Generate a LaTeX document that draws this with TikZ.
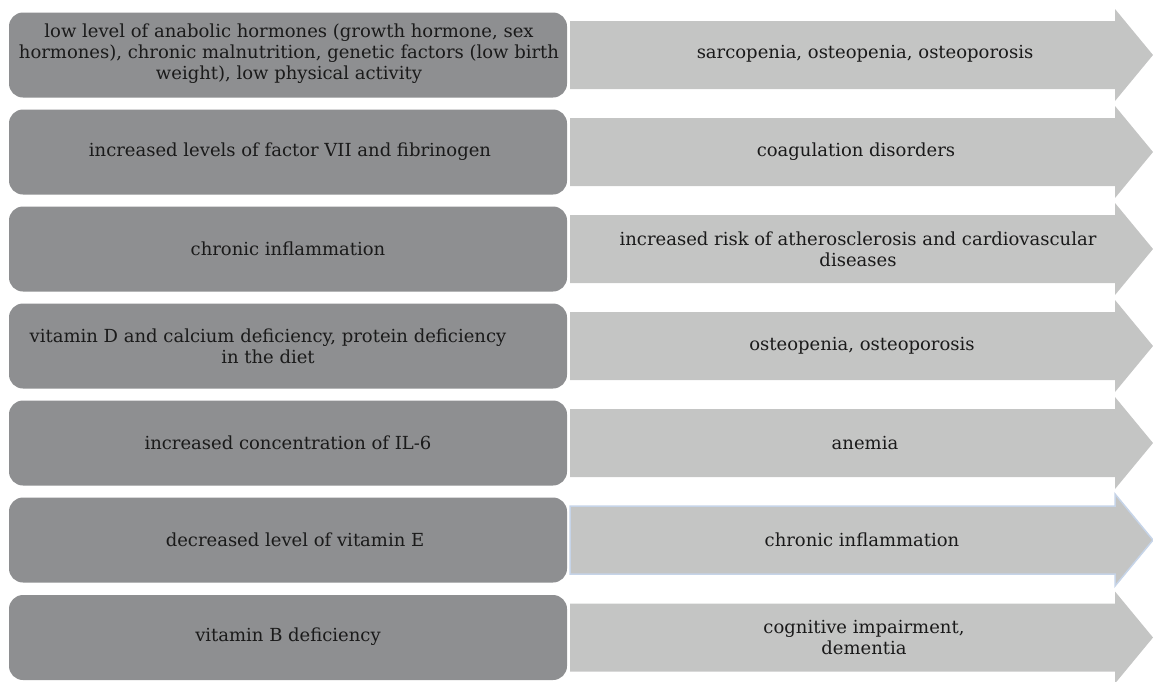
\documentclass[tikz,border=0pt]{standalone}
\usepackage{fontspec}
\setmainfont{DejaVu Serif}
\usepackage{xcolor}
\definecolor{causegray}{HTML}{8E8F91}
\definecolor{effectgray}{HTML}{C4C5C4}
\definecolor{edgeblue}{HTML}{C6D4E8}
\definecolor{ink}{HTML}{1A1A1A}
\usetikzlibrary{positioning}
\usetikzlibrary{calc}

\tikzset{
    causebox/.style={fill=causegray, rounded corners=14pt, minimum width=558pt, minimum height=85pt, inner sep=0pt},
    effect/.style={fill=effectgray},
    words/.style={text=ink, align=center, inner sep=0pt, font=\fontsize{18}{21}\selectfont}
}

\begin{document}
\begin{tikzpicture}[x=1pt, y=-1pt]
    \useasboundingbox (0,0) rectangle (1153,681);

    % causes on the left
    \node[causebox] (c1) at (288,55) {};
    \node[causebox] (c2) at (288,152) {};
    \node[causebox] (c3) at (288,249) {};
    \node[causebox] (c4) at (288,346) {};
    \node[causebox] (c5) at (288,443) {};
    \node[causebox] (c6) at (288,540) {};
    \node[causebox] (c7) at (288,637.5) {};

    \node[words] (t1) at ($(c1)+(1,-1)$) {low level of anabolic hormones (growth hormone, sex\\ hormones), chronic malnutrition, genetic factors (low birth\\ weight), low physical activity};
    \node[words] (t2) at ($(c2)+(2,0)$) {increased levels of factor VII and fibrinogen};
    \node[words] (t3) at ($(c3)+(0,0)$) {chronic inflammation};
    \node[words] (t4) at ($(c4)+(-20,0)$) {vitamin D and calcium deficiency, protein deficiency\\ in the diet};
    \node[words] (t5) at ($(c5)+(0,0)$) {increased concentration of IL-6};
    \node[words] (t6) at ($(c6)+(7,0)$) {decreased level of vitamin E};
    \node[words] (t7) at ($(c7)+(0,-1)$) {vitamin B deficiency};

    % effects on the right
    \fill[effect] (570,21) -- ++(545,0) -- ++(0,-12) -- ++(38,46) -- ++(-38,46) -- ++(0,-12) -- ++(-545,0) -- cycle;
    \fill[effect] (570,118) -- ++(545,0) -- ++(0,-12) -- ++(38,46) -- ++(-38,46) -- ++(0,-12) -- ++(-545,0) -- cycle;
    \fill[effect] (570,215) -- ++(545,0) -- ++(0,-12) -- ++(38,46) -- ++(-38,46) -- ++(0,-12) -- ++(-545,0) -- cycle;
    \fill[effect] (570,312) -- ++(545,0) -- ++(0,-12) -- ++(38,46) -- ++(-38,46) -- ++(0,-12) -- ++(-545,0) -- cycle;
    \fill[effect] (570,409) -- ++(545,0) -- ++(0,-12) -- ++(38,46) -- ++(-38,46) -- ++(0,-12) -- ++(-545,0) -- cycle;
    \filldraw[effect, draw=edgeblue, line width=1.5pt] (570,506) -- ++(545,0) -- ++(0,-12) -- ++(38,46) -- ++(-38,46) -- ++(0,-12) -- ++(-545,0) -- cycle;
    \fill[effect] (570,603.5) -- ++(545,0) -- ++(0,-12) -- ++(38,46) -- ++(-38,46) -- ++(0,-12) -- ++(-545,0) -- cycle;

    \node[words] (e1) at (865,54) {sarcopenia, osteopenia, osteoporosis};
    \node[words] (e2) at (856,152) {coagulation disorders};
    \node[words] (e3) at (858,249) {increased risk of atherosclerosis and cardiovascular\\ diseases};
    \node[words] (e4) at (862,346) {osteopenia, osteoporosis};
    \node[words] (e5) at (865,443) {anemia};
    \node[words] (e6) at (862,540) {chronic inflammation};
    \node[words] (e7) at (864,637.5) {cognitive impairment,\\ dementia};

\end{tikzpicture}
\end{document}
